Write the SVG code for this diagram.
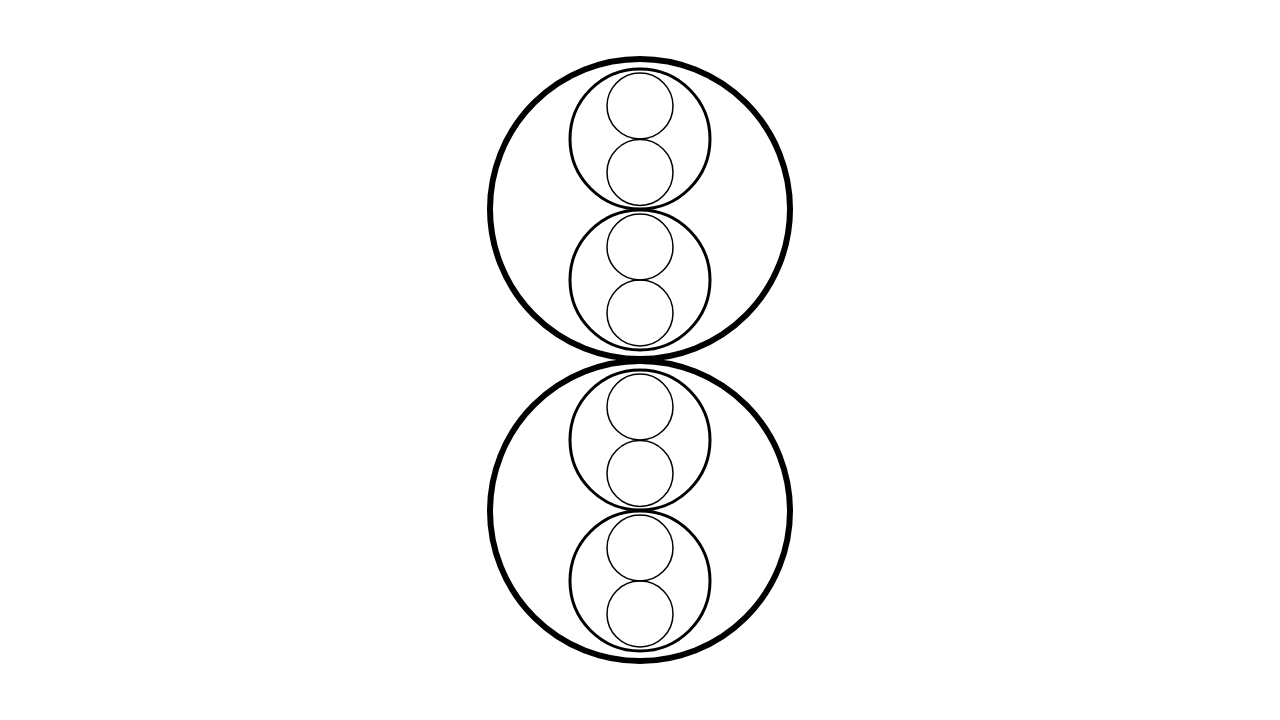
<svg xmlns="http://www.w3.org/2000/svg" width="1280" height="720" viewBox="0 0 1280 720">
<style>
.big{fill:none;stroke:#000;stroke-width:6}
.mid{fill:none;stroke:#000;stroke-width:3}
.sm{fill:none;stroke:#000;stroke-width:1.5}
</style>
<rect width="1280" height="720" fill="#fff"/>
<g id="top">
<circle class="big" cx="640" cy="209" r="150"/>
<g id="top-a">
<circle class="mid" cx="640" cy="139" r="70"/>
<circle class="sm" cx="640" cy="106" r="33"/>
<circle class="sm" cx="640" cy="172.5" r="33"/>
</g>
<g id="top-b">
<circle class="mid" cx="640" cy="280" r="70"/>
<circle class="sm" cx="640" cy="247" r="33"/>
<circle class="sm" cx="640" cy="313" r="33"/>
</g>
</g>
<g id="bottom">
<circle class="big" cx="640" cy="511" r="150"/>
<g id="bottom-a">
<circle class="mid" cx="640" cy="440" r="70"/>
<circle class="sm" cx="640" cy="407" r="33"/>
<circle class="sm" cx="640" cy="473.5" r="33"/>
</g>
<g id="bottom-b">
<circle class="mid" cx="640" cy="581" r="70"/>
<circle class="sm" cx="640" cy="548" r="33"/>
<circle class="sm" cx="640" cy="614" r="33"/>
</g>
</g>
<g id="connectors"></g>
</svg>
